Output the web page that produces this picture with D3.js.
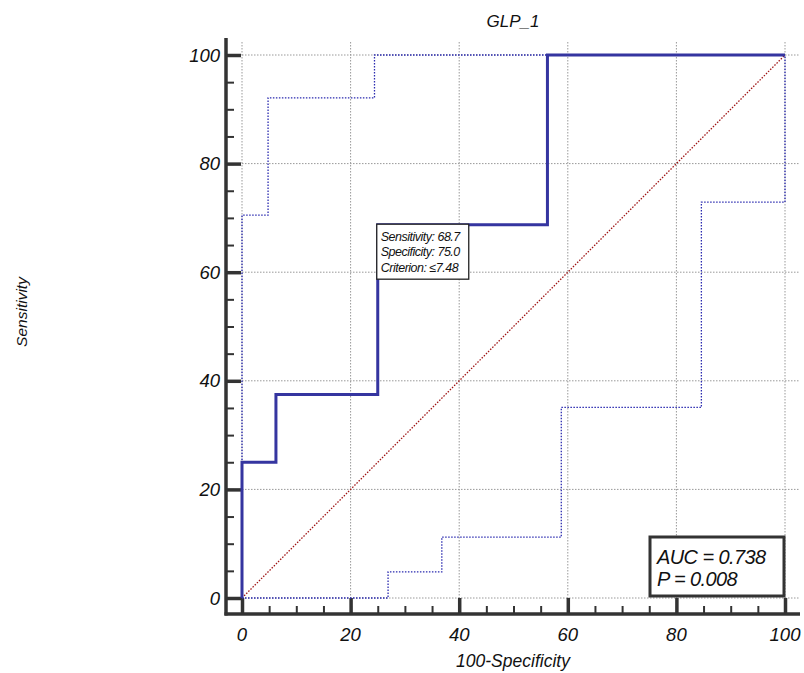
<!DOCTYPE html>
<html>
<head>
<meta charset="utf-8">
<script src="https://cdn.jsdelivr.net/npm/d3@7"></script>
<style>
  body { margin: 0; background: #fff; }
  text { font-family: "Liberation Sans", Arial, sans-serif; font-style: italic; fill: #111; }
</style>
</head>
<body>
<div id="chart"></div>
<script>
// ROC curve points (100-Specificity, Sensitivity)
var rocX = [0, 0, 6.25, 6.25, 25, 25, 56.25, 56.25, 100];
var rocY = [0, 25, 25, 37.5, 37.5, 68.75, 68.75, 100, 100];

// upper confidence bound
var upperX = [0, 0, 4.8, 4.8, 24.4, 24.4, 100];
var upperY = [0, 70.5, 70.5, 92.1, 92.1, 100, 100];

// lower confidence bound
var lowerX = [0, 26.9, 26.9, 36.8, 36.8, 58.8, 58.8, 84.6, 84.6, 100, 100];
var lowerY = [0, 0, 4.8, 4.8, 11.2, 11.2, 35.1, 35.1, 72.9, 72.9, 100];

var majorTicks = [0, 20, 40, 60, 80, 100];
var minorTicks = d3.range(0, 101, 5);

var title = "GLP_1";
var xTitle = "100-Specificity";
var yTitle = "Sensitivity";
var pointInfo = ["Sensitivity: 68.7", "Specificity: 75.0", "Criterion: \u22647.48"];
var pointAt = [25, 68.75];
var statsInfo = ["AUC = 0.738", "P = 0.008"];

var svgWidth = 804, svgHeight = 673;

var svg = d3.select("#chart").append("svg")
    .attr("width", svgWidth)
    .attr("height", svgHeight);

var x = d3.scaleLinear().domain([0, 100]).range([242, 785]);
var y = d3.scaleLinear().domain([0, 100]).range([598, 55]);

var axisX = 226;   // y axis line position
var axisY = 614;   // x axis line position

//grid
var grid = svg.append("g")
    .attr("stroke", "#999")
    .attr("stroke-width", 1)
    .attr("stroke-dasharray", "1.5,1.5");
grid.selectAll(".hg").data(majorTicks).enter().append("line")
    .attr("x1", x(0)).attr("x2", 800)
    .attr("y1", d => y(d)).attr("y2", d => y(d));
grid.selectAll(".vg").data(majorTicks).enter().append("line")
    .attr("x1", d => x(d)).attr("x2", d => x(d))
    .attr("y1", 42).attr("y2", y(0));

//axes
var leftAxis = d3.axisRight(y).tickValues(minorTicks).tickSize(8).tickFormat("");
var leftMajor = d3.axisRight(y).tickValues(majorTicks).tickSize(15).tickFormat("");
var bottomAxis = d3.axisTop(x).tickValues(minorTicks).tickSize(8).tickFormat("");
var bottomMajor = d3.axisTop(x).tickValues(majorTicks).tickSize(16).tickFormat("");

var yAxisG = svg.append("g").attr("transform", `translate(${axisX},0)`).call(leftAxis);
var yAxisMaj = svg.append("g").attr("transform", `translate(${axisX},0)`).call(leftMajor);
var xAxisG = svg.append("g").attr("transform", `translate(0,${axisY})`).call(bottomAxis);
var xAxisMaj = svg.append("g").attr("transform", `translate(0,${axisY})`).call(bottomMajor);

[yAxisG, xAxisG].forEach(function(g) {
    g.select(".domain").remove();
    g.selectAll(".tick line").attr("stroke", "#333").attr("stroke-width", 2);
});
[yAxisMaj, xAxisMaj].forEach(function(g) {
    g.select(".domain").remove();
    g.selectAll(".tick line").attr("stroke", "#333").attr("stroke-width", 3.5);
});

svg.append("line")
    .attr("x1", axisX).attr("x2", axisX)
    .attr("y1", 38).attr("y2", axisY + 1.5)
    .attr("stroke", "#333").attr("stroke-width", 3.5);
svg.append("line")
    .attr("x1", axisX - 1.5).attr("x2", 800)
    .attr("y1", axisY).attr("y2", axisY)
    .attr("stroke", "#333").attr("stroke-width", 3.5);

//tick labels
svg.selectAll(".ylab").data(majorTicks).enter().append("text")
    .attr("x", 220)
    .attr("y", d => y(d) + 6.5)
    .attr("text-anchor", "end")
    .attr("font-size", "18.5px")
    .text(d => d);
svg.selectAll(".xlab").data(majorTicks).enter().append("text")
    .attr("x", d => x(d))
    .attr("y", 641)
    .attr("text-anchor", "middle")
    .attr("font-size", "18.5px")
    .text(d => d);

//titles
svg.append("text").attr("x", 513).attr("y", 27)
    .attr("text-anchor", "middle").attr("font-size", "17px").text(title);
svg.append("text").attr("x", 513).attr("y", 667)
    .attr("text-anchor", "middle").attr("font-size", "17.5px").text(xTitle);
svg.append("text")
    .attr("transform", "translate(27,312) rotate(-90)")
    .attr("text-anchor", "middle").attr("font-size", "15.5px").text(yTitle);

//lines
var line = d3.line().x(d => x(d[0])).y(d => y(d[1]));

svg.append("path")
    .datum([[0, 0], [100, 100]])
    .attr("d", line)
    .attr("fill", "none")
    .attr("stroke", "#a01515")
    .attr("stroke-width", 1.3)
    .attr("stroke-dasharray", "1.5,1.5");

svg.append("path")
    .datum(d3.zip(upperX, upperY))
    .attr("d", line)
    .attr("fill", "none")
    .attr("stroke", "#2b2bb0")
    .attr("stroke-width", 1.3)
    .attr("stroke-dasharray", "1.5,1.5");

svg.append("path")
    .datum(d3.zip(lowerX, lowerY))
    .attr("d", line)
    .attr("fill", "none")
    .attr("stroke", "#2b2bb0")
    .attr("stroke-width", 1.3)
    .attr("stroke-dasharray", "1.5,1.5");

svg.append("path")
    .datum(d3.zip(rocX, rocY))
    .attr("d", line)
    .attr("fill", "none")
    .attr("stroke", "#3535a0")
    .attr("stroke-width", 3);

//criterion box
var px = x(pointAt[0]), py = y(pointAt[1]);
svg.append("rect")
    .attr("x", px - 1).attr("y", py - 0.5)
    .attr("width", 92).attr("height", 55)
    .attr("fill", "#fff")
    .attr("stroke", "#222").attr("stroke-width", 1.3);
svg.selectAll(".info").data(pointInfo).enter().append("text")
    .attr("x", px + 3)
    .attr("y", (d, i) => py + 16 + i * 15.5)
    .attr("font-size", "12.5px")
    .attr("letter-spacing", "-0.5px")
    .text(d => d);

//AUC box
svg.append("rect")
    .attr("x", 650).attr("y", 537)
    .attr("width", 134).attr("height", 59)
    .attr("fill", "#fff")
    .attr("stroke", "#333").attr("stroke-width", 3);
svg.selectAll(".stat").data(statsInfo).enter().append("text")
    .attr("x", 657)
    .attr("y", (d, i) => 564 + i * 22)
    .attr("font-size", "20px")
    .attr("letter-spacing", "-0.6px")
    .text(d => d);
</script>
</body>
</html>
